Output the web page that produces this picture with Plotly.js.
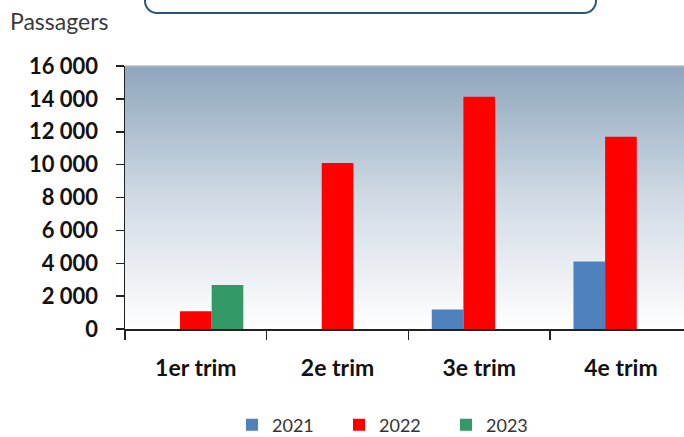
<!DOCTYPE html>
<html>
<head>
<meta charset="utf-8">
<script src="https://cdn.plot.ly/plotly-3.0.1.min.js"></script>
<style>
  html, body { margin: 0; padding: 0; background: #ffffff; }
  #wrap { position: relative; width: 684px; height: 437px; overflow: hidden; }
  #chart { width: 684px; height: 437px; }
  #box { position: absolute; left: 144px; top: -32px; width: 449px; height: 42px;
         border: 2.5px solid #2a5583; border-radius: 13px; pointer-events: none; }
</style>
</head>
<body>
<div id="wrap">
  <div id="chart"></div>
  <div id="box"></div>
</div>
<script>
// ---- data ----
const categories = ["1er trim", "2e trim", "3e trim", "4e trim"];
const seriesNames = ["2021", "2022", "2023"];
const values2021 = [null, null, 1180, 4110];
const values2022 = [1080, 10100, 14130, 11690];
const values2023 = [2670, null, null, null];
const yTickValues = [0, 2000, 4000, 6000, 8000, 10000, 12000, 14000, 16000];

const colors = ["#4f81bd", "#ff0000", "#339966"];
const allValues = [values2021, values2022, values2023];

const traces = allValues.map((vals, i) => ({
  type: "bar",
  name: seriesNames[i],
  x: categories,
  y: vals,
  marker: { color: colors[i], line: { width: 0 } },
  hoverinfo: "x+y+name"
}));

const gradSvg =
  '<svg xmlns="http://www.w3.org/2000/svg" width="100" height="100" viewBox="0 0 100 100" preserveAspectRatio="none">' +
  '<defs><linearGradient id="g" x1="0" y1="0" x2="0" y2="1">' +
  '<stop offset="0" stop-color="#8ea6bc"/>' +
  '<stop offset="0.5" stop-color="#d0dae4"/>' +
  '<stop offset="1" stop-color="#ffffff"/>' +
  '</linearGradient></defs>' +
  '<rect x="0" y="0" width="100" height="100" fill="url(#g)"/></svg>';
const gradUri = "data:image/svg+xml;charset=utf-8," + encodeURIComponent(gradSvg);

const layout = {
  width: 684,
  height: 437,
  margin: { l: 125, r: 0, t: 66, b: 108, pad: 0 },
  paper_bgcolor: "rgba(0,0,0,0)",
  plot_bgcolor: "rgba(0,0,0,0)",
  separators: ", ",
  barmode: "group",
  bargap: 0.33,
  bargroupgap: 0,
  showlegend: true,
  title: {
    text: "Passagers",
    font: { family: "Lato, 'Open Sans', sans-serif", size: 23, color: "#3a3a3a" },
    xref: "container", yref: "container",
    x: 10 / 684, xanchor: "left",
    y: 1 - 22 / 437, yanchor: "middle"
  },
  xaxis: {
    type: "category",
    range: [-0.5, 3.445],
    autorange: false,
    showline: true,
    linecolor: "#222222",
    linewidth: 1.5,
    ticks: "outside",
    tickson: "boundaries",
    ticklen: 9,
    tickwidth: 1.5,
    tickcolor: "#222222",
    showgrid: false,
    zeroline: false,
    ticklabelstandoff: 18,
    tickfont: { family: "Lato, 'Open Sans', sans-serif", size: 23, color: "#111111", weight: "bold" }
  },
  yaxis: {
    range: [0, 16000],
    autorange: false,
    tickvals: yTickValues,
    tickformat: ",d",
    showline: true,
    linecolor: "#222222",
    linewidth: 1.5,
    ticks: "outside",
    ticklen: 8,
    tickwidth: 1.5,
    tickcolor: "#222222",
    showgrid: false,
    zeroline: false,
    ticklabelstandoff: 13,
    tickfont: { family: "Lato, 'Open Sans', sans-serif", size: 22, color: "#111111", weight: "bold" }
  },
  legend: {
    orientation: "h",
    xref: "container", yref: "container",
    x: 232 / 684, xanchor: "left",
    y: 1 - 425 / 437, yanchor: "middle",
    entrywidth: 62,
    entrywidthmode: "pixels",
    bgcolor: "rgba(0,0,0,0)",
    font: { family: "Lato, 'Open Sans', sans-serif", size: 18, color: "#333333" },
    traceorder: "normal"
  },
  images: [{
    source: gradUri,
    xref: "paper", yref: "paper",
    x: 0, y: 1, sizex: 1, sizey: 1,
    xanchor: "left", yanchor: "top",
    sizing: "stretch",
    layer: "below"
  }],
  shapes: [{
    type: "line", xref: "paper", yref: "paper",
    x0: 0, x1: 1, y0: 1, y1: 1,
    line: { color: "#b4bcc4", width: 1.5 },
    layer: "below"
  }]
};

Plotly.newPlot("chart", traces, layout, { displayModeBar: false, staticPlot: true });
</script>
</body>
</html>
